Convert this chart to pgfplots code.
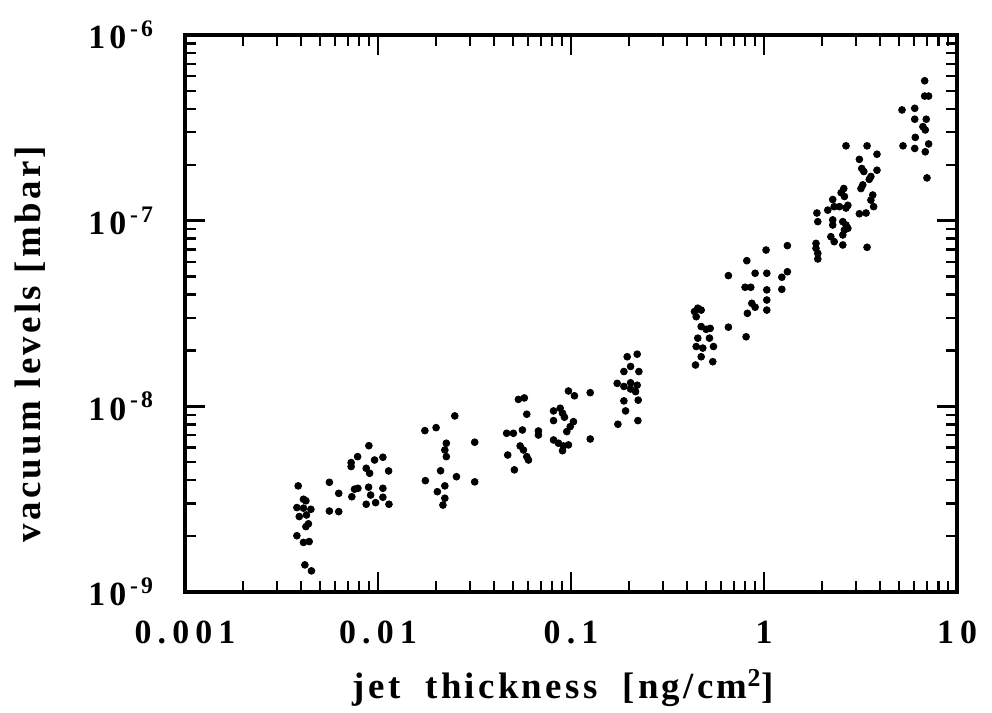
\documentclass[border=0pt]{standalone}
\usepackage{fontspec}
\setmainfont{Liberation Serif}
\usepackage{pgfplots}
\pgfplotsset{compat=1.18}
\begin{document}
\begin{tikzpicture}
\begin{axis}[
  scale only axis,
  width=386bp, height=278.5bp,
  xmode=log, ymode=log,
  xmin=1e-3, xmax=10, ymin=1e-9, ymax=1e-6,
  axis line style={line width=1.8bp},
  tick style={line width=1.2bp, black},
  major tick length=10bp,
  minor tick length=5.5bp,
  tick align=inside,
  xtick={0.001,0.01,0.1,1,10},
  xticklabels={0.001,0.01,0.1,1,10},
  minor xtick={2e-3,3e-3,4e-3,5e-3,6e-3,7e-3,8e-3,9e-3,2e-2,3e-2,4e-2,5e-2,6e-2,7e-2,8e-2,9e-2,0.2,0.3,0.4,0.5,0.6,0.7,0.8,0.9,2,3,4,5,6,7,8,9},
  ytick={1e-9,1e-8,1e-7,1e-6},
  yticklabels={1\hspace{2bp}0\hspace{2bp}\textsuperscript{-\hspace{1.5bp}9},1\hspace{2bp}0\hspace{2bp}\textsuperscript{-\hspace{1.5bp}8},1\hspace{2bp}0\hspace{2bp}\textsuperscript{-\hspace{1.5bp}7},1\hspace{2bp}0\hspace{2bp}\textsuperscript{-\hspace{1.5bp}6}},
  minor ytick={2e-9,3e-9,4e-9,5e-9,6e-9,7e-9,8e-9,9e-9,2e-8,3e-8,4e-8,5e-8,6e-8,7e-8,8e-8,9e-8,2e-7,3e-7,4e-7,5e-7,6e-7,7e-7,8e-7,9e-7},
  ticklabel style={font=\fontsize{17}{19}\selectfont\bfseries\addfontfeature{LetterSpace=18}},
  xticklabel style={anchor=center, yshift=-20bp},
  yticklabel style={anchor=east, xshift=-12bp},
  xlabel={jet\ \ thickness\ \ [ng/cm\textsuperscript{2}]},
  ylabel={vacuum levels [mbar]},
  label style={font=\fontsize{18.5}{21}\selectfont\bfseries\addfontfeature{LetterSpace=9}},
  xlabel style={at={(axis description cs:0.49,-0.172)}, anchor=center},
  ylabel style={at={(axis description cs:-0.2,0.445)}, anchor=center},
]
\addplot[only marks, mark=*, mark size=1.7bp, black] coordinates {
(3.86e-3,3.73e-9) (4.11e-3,3.16e-9) (4.23e-3,3.10e-9) (3.80e-3,2.85e-9) (4.11e-3,2.83e-9)
(4.49e-3,2.79e-9) (3.91e-3,2.55e-9) (4.26e-3,2.60e-9) (4.36e-3,2.33e-9) (4.23e-3,2.25e-9)
(3.80e-3,2.01e-9) (4.11e-3,1.85e-9) (4.40e-3,1.87e-9) (4.18e-3,1.40e-9) (4.52e-3,1.30e-9)
(5.60e-3,3.90e-9) (6.26e-3,3.40e-9) (5.60e-3,2.73e-9) (6.26e-3,2.71e-9)
(8.97e-3,6.14e-9) (7.84e-3,5.36e-9) (7.26e-3,4.98e-9) (7.26e-3,4.74e-9) (9.60e-3,5.14e-9)
(1.06e-2,5.32e-9) (8.69e-3,4.64e-9) (9.05e-3,4.36e-9) (1.135e-2,4.49e-9) (7.56e-3,3.58e-9)
(7.87e-3,3.62e-9) (7.32e-3,3.26e-9) (8.94e-3,3.67e-9) (9.16e-3,3.33e-9) (1.06e-2,3.62e-9)
(1.06e-2,3.24e-9) (8.69e-3,2.97e-9) (9.72e-3,3.03e-9) (1.14e-2,2.97e-9)
(1.75e-2,7.40e-9) (2.00e-2,7.68e-9) (2.26e-2,6.33e-9) (2.22e-2,5.82e-9) (2.26e-2,5.36e-9)
(2.11e-2,4.50e-9) (1.76e-2,3.98e-9) (2.22e-2,3.73e-9) (2.03e-2,3.47e-9) (2.22e-2,3.20e-9)
(2.17e-2,2.94e-9) (2.50e-2,8.88e-9) (2.55e-2,4.18e-9) (3.17e-2,6.41e-9) (3.17e-2,3.92e-9)
(5.34e-2,1.09e-8) (5.73e-2,1.11e-8) (5.90e-2,9.07e-9) (4.64e-2,7.16e-9) (5.03e-2,7.16e-9)
(5.60e-2,7.46e-9) (6.78e-2,7.37e-9) (6.78e-2,7.01e-9) (5.45e-2,6.12e-9) (5.67e-2,5.82e-9)
(5.90e-2,5.36e-9) (6.02e-2,5.14e-9) (4.70e-2,5.47e-9) (5.09e-2,4.55e-9)
(9.70e-2,1.21e-8) (0.1042,1.14e-8) (0.1258,1.185e-8) (8.12e-2,9.45e-9) (8.79e-2,9.77e-9)
(9.04e-2,9.18e-9) (9.25e-2,8.74e-9) (8.12e-2,8.38e-9) (0.1030,8.27e-9) (9.91e-2,7.78e-9)
(9.51e-2,7.31e-9) (8.12e-2,6.59e-9) (8.61e-2,6.33e-9) (9.14e-2,6.12e-9) (9.70e-2,6.20e-9)
(9.04e-2,5.77e-9) (0.1258,6.67e-9)
(0.2203,1.91e-8) (0.1955,1.85e-8) (0.1880,1.54e-8) (0.2036,1.64e-8) (0.2248,1.54e-8)
(0.1735,1.33e-8) (0.1880,1.28e-8) (0.2036,1.34e-8) (0.2203,1.30e-8) (0.2161,1.20e-8)
(0.2036,1.24e-8) (0.1880,1.07e-8) (0.2230,1.08e-8) (0.1918,9.45e-9) (0.1750,8.01e-9)
(0.2222,8.38e-9)
(0.4539,3.38e-8) (0.4364,3.24e-8) (0.4726,3.30e-8) (0.4454,3.04e-8) (0.4726,2.69e-8)
(0.5017,2.60e-8) (0.5262,2.63e-8) (0.4539,2.33e-8) (0.5218,2.33e-8) (0.4454,2.10e-8)
(0.4818,2.06e-8) (0.5473,2.10e-8) (0.4726,1.85e-8) (0.4417,1.67e-8) (0.5428,1.74e-8)
(0.654,5.06e-8) (0.654,2.67e-8) (0.8145,6.09e-8) (0.8078,2.37e-8) (0.798,4.38e-8)
(0.8543,4.38e-8) (0.8994,5.21e-8) (0.8646,3.59e-8) (0.8994,3.42e-8) (0.8204,3.17e-8)
(1.025,6.95e-8) (1.034,5.21e-8) (1.034,4.24e-8) (1.034,3.74e-8) (1.034,3.30e-8)
(1.237,4.96e-8) (1.237,4.27e-8) (1.322,7.34e-8) (1.322,5.31e-8)
(2.66,2.53e-7) (3.42,2.53e-7) (3.85,2.28e-7) (3.12,2.14e-7) (3.21,1.91e-7)
(3.29,1.84e-7) (3.85,1.87e-7) (3.58,1.73e-7) (3.51,1.67e-7) (3.25,1.56e-7)
(3.18,1.49e-7) (2.59,1.49e-7) (2.51,1.415e-7) (2.61,1.35e-7) (3.66,1.375e-7)
(3.58,1.29e-7) (3.70,1.19e-7) (3.38,1.10e-7) (3.12,1.09e-7) (2.27,1.30e-7)
(2.31,1.19e-7) (2.46,1.19e-7) (2.66,1.17e-7) (2.14,1.14e-7) (1.88,1.10e-7)
(1.90,9.88e-8) (2.27,1.01e-7) (2.27,9.48e-8) (2.56,9.88e-8) (2.66,9.48e-8)
(2.61,8.91e-8) (2.56,8.38e-8) (2.72,9.10e-8) (2.22,8.20e-8) (2.31,7.71e-8)
(1.86,7.55e-8) (1.86,7.10e-8) (1.90,6.67e-8) (1.90,6.22e-8) (2.56,7.40e-8)
(3.42,7.19e-8) (2.72,1.21e-7)
(6.80,5.67e-7) (6.80,4.69e-7) (7.13,4.69e-7) (5.19,3.95e-7) (6.04,4.03e-7)
(6.04,3.52e-7) (6.93,3.52e-7) (6.66,3.21e-7) (6.85,3.08e-7) (6.08,2.81e-7)
(7.13,2.59e-7) (5.25,2.53e-7) (6.04,2.45e-7) (6.85,2.35e-7) (6.99,1.70e-7)
};
\coordinate (sw) at (rel axis cs:0,0);
\coordinate (ne) at (rel axis cs:1,1);
\end{axis}
\pgfresetboundingbox
\path ([shift={(-92.5bp,-60.5bp)}]sw) rectangle ([shift={(17.5bp,17.5bp)}]ne);
\end{tikzpicture}
\end{document}
